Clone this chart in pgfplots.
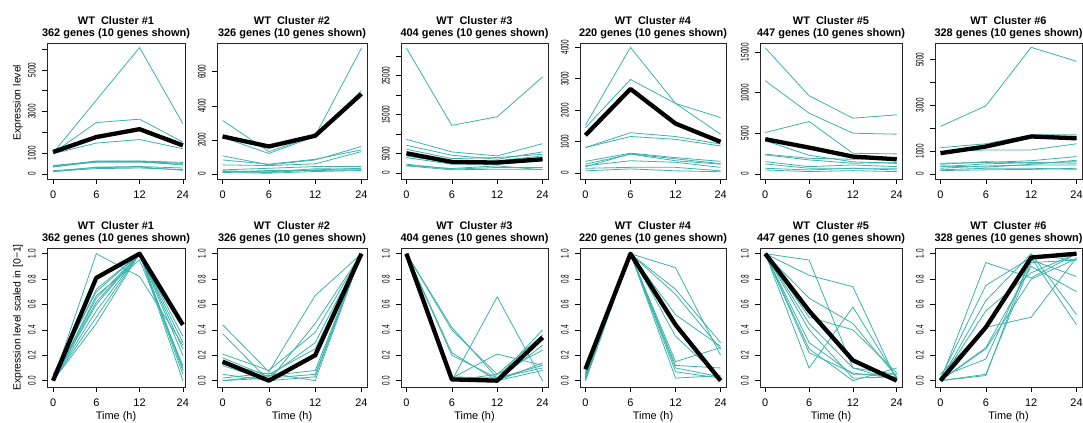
\documentclass[border=0pt]{standalone}
\usepackage{fontspec}
\setmainfont{Liberation Sans}
\usepackage{graphicx}
\usepackage{pgfplots}
\pgfplotsset{compat=1.18}

\definecolor{genecol}{RGB}{60,178,172}
% R draws the rotated y tick labels narrow
\newcommand\sq[1]{\scalebox{0.58}[1]{#1}}

\pgfplotsset{
  rpanel/.style={
    scale only axis, anchor=south west,
    xmin=-0.12, xmax=3.12,
    xtick={0,1,2,3}, xticklabels={0,6,12,24},
    tick align=outside, xtick pos=left, ytick pos=left,
    major tick length=5bp,
    every tick/.style={black, line width=0.6bp},
    axis line style={black!85, line width=0.7bp},
    tick label style={font=\fontsize{11}{13}\selectfont, inner sep=0pt},
    xticklabel shift=7bp,
    yticklabel style={rotate=90, anchor=south},
    yticklabel shift=6bp,
    scaled y ticks=false,
    title style={at={(0.5,1)}, anchor=south, inner sep=0pt, yshift=-2bp,
      align=center, font=\fontsize{11}{11.8}\selectfont\bfseries},
    every axis y label/.style={at={([xshift=-29bp]axis description cs:0,0.5)},
      rotate=90, anchor=center, font=\fontsize{10.5}{12}\selectfont},
    every axis x label/.style={at={([yshift=-29.5bp]axis description cs:0.5,0)},
      anchor=center, inner sep=0pt, font=\fontsize{11}{13}\selectfont},
  },
  toprow/.style={rpanel, height=136bp},
  botrow/.style={rpanel, height=139bp, ymin=-0.05, ymax=1.045,
    ytick={0,0.2,0.4,0.6,0.8,1},
    yticklabels={\sq{0.0},\sq{0.2},\sq{0.4},\sq{0.6},\sq{0.8},\sq{1.0}},
    xlabel={Time (h)}},
  gline/.style={genecol, line width=0.8bp, mark=none},
  mline/.style={black, line width=4.3bp, mark=none, line join=round},
}

\begin{document}
\begin{tikzpicture}
\useasboundingbox (0,0) rectangle (1083bp,423bp);

% ---------------- top row: raw expression ----------------
\begin{axis}[toprow, at={(47bp,244bp)}, width=138bp, xmin=-0.14, xmax=3.05,
  ymin=-250, ymax=6300, ytick={0,1000,2000,3000,4000,5000,6000},
  yticklabels={\sq{0},\sq{1000},,\sq{3000},,\sq{5000},},
  title={WT\ \ Cluster \#1\\362 genes (10 genes shown)},
  ylabel={Expression level},
  every axis y label/.append style={at={([xshift=-29bp]axis description cs:0,0.56)}}]
\addplot[gline] coordinates {(0,1000)(1,3550)(2,6080)(3,2420)};
\addplot[gline] coordinates {(0,1000)(1,2470)(2,2630)(3,1530)};
\addplot[gline] coordinates {(0,970)(1,1480)(2,1650)(3,1210)};
\addplot[gline] coordinates {(0,400)(1,600)(2,620)(3,550)};
\addplot[gline] coordinates {(0,380)(1,560)(2,560)(3,460)};
\addplot[gline] coordinates {(0,330)(1,620)(2,600)(3,500)};
\addplot[gline] coordinates {(0,330)(1,580)(2,600)(3,420)};
\addplot[gline] coordinates {(0,150)(1,300)(2,330)(3,170)};
\addplot[gline] coordinates {(0,120)(1,250)(2,280)(3,200)};
\addplot[gline] coordinates {(0,100)(1,320)(2,350)(3,280)};
\addplot[mline] coordinates {(0,1050)(1,1770)(2,2150)(3,1370)};
\end{axis}

\begin{axis}[toprow, at={(217bp,244bp)}, width=150bp,
  ymin=-300, ymax=7690, ytick={0,2000,4000,6000},
  yticklabels={\sq{0},\sq{2000},\sq{4000},\sq{6000}},
  title={WT\ \ Cluster \#2\\326 genes (10 genes shown)}]
\addplot[gline] coordinates {(0,3140)(1,1310)(2,2240)(3,7390)};
\addplot[gline] coordinates {(0,2150)(1,1200)(2,2200)(3,4900)};
\addplot[gline] coordinates {(0,1060)(1,530)(2,820)(3,1610)};
\addplot[gline] coordinates {(0,820)(1,570)(2,860)(3,1410)};
\addplot[gline] coordinates {(0,530)(1,490)(2,590)(3,1310)};
\addplot[gline] coordinates {(0,235)(1,330)(2,430)(3,430)};
\addplot[gline] coordinates {(0,140)(1,80)(2,235)(3,330)};
\addplot[gline] coordinates {(0,100)(1,200)(2,200)(3,235)};
\addplot[gline] coordinates {(0,80)(1,40)(2,140)(3,200)};
\addplot[gline] coordinates {(0,180)(1,120)(2,300)(3,280)};
\addplot[mline] coordinates {(0,2200)(1,1610)(2,2240)(3,4700)};
\end{axis}

\begin{axis}[toprow, at={(401bp,244bp)}, width=147bp,
  ymin=-1500, ymax=33400,
  ytick={0,5000,10000,15000,20000,25000,30000},
  yticklabels={\sq{0},\sq{5000},,\sq{15000},,\sq{25000},},
  title={WT\ \ Cluster \#3\\404 genes (10 genes shown)}]
\addplot[gline] coordinates {(0,32090)(1,12260)(2,14470)(3,24680)};
\addplot[gline] coordinates {(0,8680)(1,5450)(2,4430)(3,7570)};
\addplot[gline] coordinates {(0,7150)(1,4600)(2,3570)(3,5450)};
\addplot[gline] coordinates {(0,6130)(1,3740)(2,4000)(3,4850)};
\addplot[gline] coordinates {(0,4850)(1,2720)(2,3150)(3,4430)};
\addplot[gline] coordinates {(0,4430)(1,2550)(2,2720)(3,3570)};
\addplot[gline] coordinates {(0,4000)(1,2300)(2,2300)(3,3150)};
\addplot[gline] coordinates {(0,2300)(1,1020)(2,1450)(3,1450)};
\addplot[gline] coordinates {(0,1870)(1,850)(2,1020)(3,1020)};
\addplot[gline] coordinates {(0,2040)(1,1190)(2,1870)(3,850)};
\addplot[mline] coordinates {(0,5100)(1,2890)(2,2720)(3,3570)};
\end{axis}

\begin{axis}[toprow, at={(580bp,244bp)}, width=146bp,
  ymin=-190, ymax=4130, ytick={0,1000,2000,3000,4000},
  yticklabels={\sq{0},\sq{1000},\sq{2000},\sq{3000},\sq{4000}},
  title={WT\ \ Cluster \#4\\220 genes (10 genes shown)}]
\addplot[gline] coordinates {(0,1520)(1,3990)(2,2210)(3,1230)};
\addplot[gline] coordinates {(0,1440)(1,2970)(2,2210)(3,1760)};
\addplot[gline] coordinates {(0,810)(1,1280)(2,1160)(3,920)};
\addplot[gline] coordinates {(0,810)(1,1160)(2,1070)(3,860)};
\addplot[gline] coordinates {(0,370)(1,630)(2,490)(3,370)};
\addplot[gline] coordinates {(0,280)(1,600)(2,390)(3,280)};
\addplot[gline] coordinates {(0,230)(1,390)(2,340)(3,180)};
\addplot[gline] coordinates {(0,150)(1,180)(2,180)(3,70)};
\addplot[gline] coordinates {(0,70)(1,130)(2,70)(3,40)};
\addplot[gline] coordinates {(0,200)(1,610)(2,450)(3,300)};
\addplot[mline] coordinates {(0,1200)(1,2670)(2,1570)(3,990)};
\end{axis}

\begin{axis}[toprow, at={(760bp,244bp)}, width=142bp,
  ymin=-620, ymax=16130, ytick={0,5000,10000,15000},
  yticklabels={\sq{0},\sq{5000},\sq{10000},\sq{15000}},
  title={WT\ \ Cluster \#5\\447 genes (10 genes shown)}]
\addplot[gline] coordinates {(0,15530)(1,9630)(2,6870)(3,7280)};
\addplot[gline] coordinates {(0,11480)(1,7490)(2,5020)(3,4900)};
\addplot[gline] coordinates {(0,5100)(1,6460)(2,2550)(3,2470)};
\addplot[gline] coordinates {(0,2430)(1,1930)(2,1810)(3,1810)};
\addplot[gline] coordinates {(0,2350)(1,1730)(2,1320)(3,1400)};
\addplot[gline] coordinates {(0,1520)(1,900)(2,1110)(3,900)};
\addplot[gline] coordinates {(0,1230)(1,700)(2,700)(3,490)};
\addplot[gline] coordinates {(0,700)(1,490)(2,700)(3,700)};
\addplot[gline] coordinates {(0,490)(1,290)(2,410)(3,290)};
\addplot[gline] coordinates {(0,4100)(1,2300)(2,1500)(3,1300)};
\addplot[mline] coordinates {(0,4280)(1,3250)(2,2140)(3,1810)};
\end{axis}

\begin{axis}[toprow, at={(935bp,244bp)}, width=147bp,
  ymin=-220, ymax=5730, ytick={0,1000,2000,3000,4000,5000},
  yticklabels={\sq{0},\sq{1000},,\sq{3000},,\sq{5000}},
  title={WT\ \ Cluster \#6\\328 genes (10 genes shown)}]
\addplot[gline] coordinates {(0,2080)(1,2980)(2,5540)(3,4930)};
\addplot[gline] coordinates {(0,1150)(1,1320)(2,1710)(3,1710)};
\addplot[gline] coordinates {(0,980)(1,1050)(2,1050)(3,1320)};
\addplot[gline] coordinates {(0,470)(1,500)(2,580)(3,760)};
\addplot[gline] coordinates {(0,420)(1,540)(2,470)(3,540)};
\addplot[gline] coordinates {(0,320)(1,440)(2,500)(3,470)};
\addplot[gline] coordinates {(0,250)(1,350)(2,390)(3,390)};
\addplot[gline] coordinates {(0,180)(1,250)(2,250)(3,200)};
\addplot[gline] coordinates {(0,150)(1,180)(2,200)(3,250)};
\addplot[gline] coordinates {(0,350)(1,300)(2,420)(3,600)};
\addplot[mline] coordinates {(0,910)(1,1200)(2,1640)(3,1560)};
\end{axis}

% ---------------- bottom row: scaled to [0-1] ----------------
\begin{axis}[botrow, at={(47bp,36bp)}, width=138bp, xmin=-0.14, xmax=3.05,
  title={WT\ \ Cluster \#1\\362 genes (10 genes shown)},
  ylabel={Expression level scaled in [0−1]}]
\addplot[gline] coordinates {(0,0)(1,1.0)(2,0.82)(3,0.28)};
\addplot[gline] coordinates {(0,0.05)(1,0.70)(2,1.0)(3,0.35)};
\addplot[gline] coordinates {(0,0)(1,0.65)(2,1.0)(3,0.30)};
\addplot[gline] coordinates {(0,0)(1,0.62)(2,1.0)(3,0.20)};
\addplot[gline] coordinates {(0,0)(1,0.60)(2,1.0)(3,0.10)};
\addplot[gline] coordinates {(0,0)(1,0.50)(2,1.0)(3,0.05)};
\addplot[gline] coordinates {(0,0)(1,0.45)(2,1.0)(3,0.0)};
\addplot[gline] coordinates {(0,0)(1,0.67)(2,0.95)(3,0.12)};
\addplot[gline] coordinates {(0,0.02)(1,0.72)(2,1.0)(3,0.25)};
\addplot[gline] coordinates {(0,0)(1,0.55)(2,1.0)(3,0.08)};
\addplot[mline] coordinates {(0,0)(1,0.81)(2,1.0)(3,0.44)};
\end{axis}

\begin{axis}[botrow, at={(217bp,36bp)}, width=150bp,
  title={WT\ \ Cluster \#2\\326 genes (10 genes shown)}]
\addplot[gline] coordinates {(0,0.44)(1,0.07)(2,0.67)(3,1.0)};
\addplot[gline] coordinates {(0,0.37)(1,0.0)(2,0.45)(3,1.0)};
\addplot[gline] coordinates {(0,0.21)(1,0.08)(2,0.38)(3,1.0)};
\addplot[gline] coordinates {(0,0.18)(1,0.03)(2,0.30)(3,1.0)};
\addplot[gline] coordinates {(0,0.13)(1,0.05)(2,0.25)(3,1.0)};
\addplot[gline] coordinates {(0,0.05)(1,0.0)(2,0.20)(3,1.0)};
\addplot[gline] coordinates {(0,0.0)(1,0.04)(2,0.08)(3,1.0)};
\addplot[gline] coordinates {(0,0.0)(1,0.02)(2,0.05)(3,1.0)};
\addplot[gline] coordinates {(0,0.02)(1,0.06)(2,0.0)(3,1.0)};
\addplot[gline] coordinates {(0,0.12)(1,0.0)(2,0.03)(3,1.0)};
\addplot[mline] coordinates {(0,0.15)(1,0.0)(2,0.20)(3,1.0)};
\end{axis}

\begin{axis}[botrow, at={(401bp,36bp)}, width=147bp,
  title={WT\ \ Cluster \#3\\404 genes (10 genes shown)}]
\addplot[gline] coordinates {(0,1.0)(1,0.42)(2,0.02)(3,0.40)};
\addplot[gline] coordinates {(0,1.0)(1,0.40)(2,0.05)(3,0.36)};
\addplot[gline] coordinates {(0,1.0)(1,0.22)(2,0.0)(3,0.28)};
\addplot[gline] coordinates {(0,1.0)(1,0.20)(2,0.02)(3,0.12)};
\addplot[gline] coordinates {(0,1.0)(1,0.0)(2,0.66)(3,0.0)};
\addplot[gline] coordinates {(0,1.0)(1,0.02)(2,0.21)(3,0.12)};
\addplot[gline] coordinates {(0,1.0)(1,0.0)(2,0.05)(3,0.24)};
\addplot[gline] coordinates {(0,1.0)(1,0.03)(2,0.02)(3,0.10)};
\addplot[gline] coordinates {(0,1.0)(1,0.0)(2,0.0)(3,0.08)};
\addplot[gline] coordinates {(0,1.0)(1,0.02)(2,0.0)(3,0.14)};
\addplot[mline] coordinates {(0,1.0)(1,0.01)(2,0.0)(3,0.34)};
\end{axis}

\begin{axis}[botrow, at={(580bp,36bp)}, width=146bp,
  title={WT\ \ Cluster \#4\\220 genes (10 genes shown)}]
\addplot[gline] coordinates {(0,0.0)(1,1.0)(2,0.89)(3,0.20)};
\addplot[gline] coordinates {(0,0.05)(1,1.0)(2,0.72)(3,0.30)};
\addplot[gline] coordinates {(0,0.08)(1,1.0)(2,0.68)(3,0.25)};
\addplot[gline] coordinates {(0,0.02)(1,1.0)(2,0.52)(3,0.27)};
\addplot[gline] coordinates {(0,0.06)(1,1.0)(2,0.35)(3,0.02)};
\addplot[gline] coordinates {(0,0.0)(1,1.0)(2,0.15)(3,0.26)};
\addplot[gline] coordinates {(0,0.03)(1,1.0)(2,0.12)(3,0.10)};
\addplot[gline] coordinates {(0,0.05)(1,1.0)(2,0.10)(3,0.03)};
\addplot[gline] coordinates {(0,0.01)(1,1.0)(2,0.07)(3,0.02)};
\addplot[gline] coordinates {(0,0.04)(1,1.0)(2,0.02)(3,0.04)};
\addplot[mline] coordinates {(0,0.09)(1,1.0)(2,0.44)(3,0.0)};
\end{axis}

\begin{axis}[botrow, at={(760bp,36bp)}, width=142bp,
  title={WT\ \ Cluster \#5\\447 genes (10 genes shown)}]
\addplot[gline] coordinates {(0,1.0)(1,0.95)(2,0.10)(3,0.05)};
\addplot[gline] coordinates {(0,1.0)(1,0.83)(2,0.74)(3,0.0)};
\addplot[gline] coordinates {(0,1.0)(1,0.65)(2,0.45)(3,0.03)};
\addplot[gline] coordinates {(0,1.0)(1,0.10)(2,0.58)(3,0.02)};
\addplot[gline] coordinates {(0,1.0)(1,0.25)(2,0.0)(3,0.10)};
\addplot[gline] coordinates {(0,1.0)(1,0.30)(2,0.05)(3,0.05)};
\addplot[gline] coordinates {(0,1.0)(1,0.40)(2,0.02)(3,0.03)};
\addplot[gline] coordinates {(0,1.0)(1,0.45)(2,0.10)(3,0.0)};
\addplot[gline] coordinates {(0,1.0)(1,0.50)(2,0.40)(3,0.06)};
\addplot[gline] coordinates {(0,1.0)(1,0.22)(2,0.06)(3,0.02)};
\addplot[mline] coordinates {(0,1.0)(1,0.55)(2,0.16)(3,0.0)};
\end{axis}

\begin{axis}[botrow, at={(935bp,36bp)}, width=147bp,
  title={WT\ \ Cluster \#6\\328 genes (10 genes shown)}]
\addplot[gline] coordinates {(0,0.0)(1,0.93)(2,0.81)(3,1.0)};
\addplot[gline] coordinates {(0,0.02)(1,0.75)(2,0.97)(3,0.44)};
\addplot[gline] coordinates {(0,0.0)(1,0.63)(2,1.0)(3,0.52)};
\addplot[gline] coordinates {(0,0.05)(1,0.42)(2,0.50)(3,0.97)};
\addplot[gline] coordinates {(0,0.0)(1,0.26)(2,0.90)(3,0.70)};
\addplot[gline] coordinates {(0,0.03)(1,0.17)(2,0.95)(3,0.82)};
\addplot[gline] coordinates {(0,0.0)(1,0.04)(2,0.99)(3,0.95)};
\addplot[gline] coordinates {(0,0.0)(1,0.55)(2,0.85)(3,1.0)};
\addplot[gline] coordinates {(0,0.0)(1,0.05)(2,0.93)(3,0.95)};
\addplot[gline] coordinates {(0,0.0)(1,0.25)(2,0.80)(3,0.96)};
\addplot[mline] coordinates {(0,0.0)(1,0.42)(2,0.97)(3,1.0)};
\end{axis}
\end{tikzpicture}
\end{document}
